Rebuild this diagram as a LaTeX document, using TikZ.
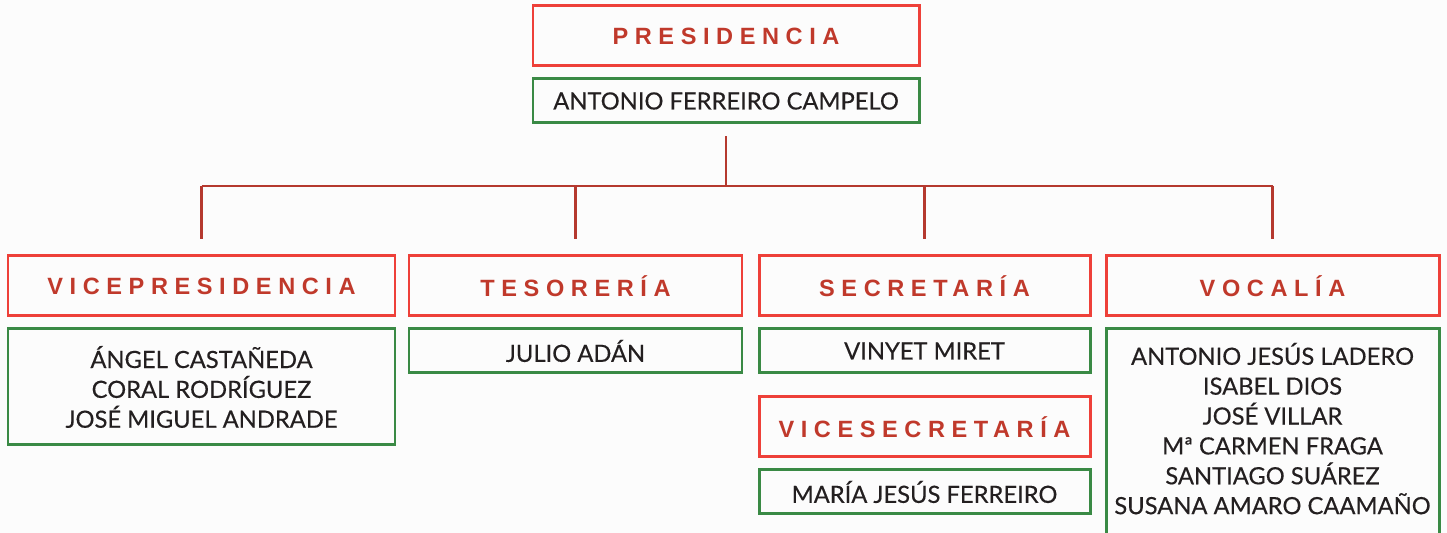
\documentclass[tikz,border=0pt]{standalone}
\usepackage{fontspec}
\setmainfont{Lato}[FakeBold=0.35]
\newfontfamily\headfont[LetterSpace=28]{Liberation Sans}
\definecolor{cargored}{HTML}{C0392B}
\definecolor{boxred}{HTML}{EE4039}
\definecolor{boxgreen}{HTML}{3A8A45}
\definecolor{linkred}{HTML}{B5392F}
\definecolor{ink}{HTML}{231F20}
\definecolor{paper}{HTML}{FCFCFC}
\tikzset{
  cargo/.style={draw=boxred, line width=1.7pt, minimum height=1.2cm, inner sep=0pt,
    text=cargored, font=\headfont\bfseries\fontsize{13.4}{16}\selectfont},
  nombres/.style={draw=boxgreen, line width=1.7pt, inner sep=0pt, text=ink, align=center,
    font=\fontsize{13.5}{17}\selectfont},
  link/.style={draw=linkred, line width=1.3pt},
}
\begin{document}
\begin{tikzpicture}
    % Page
    \fill[paper] (0,0) rectangle (28.94,10.66);
    \clip (0,0) rectangle (28.94,10.66);

    % Presidencia
    \node[cargo, minimum width=7.72cm] (pres) at (14.52,9.94) {PRESIDENCIA};
    \node[nombres, minimum width=7.72cm, minimum height=0.88cm] (presname) at (14.52,8.64)
        {ANTONIO FERREIRO CAMPELO};

    % Cargos
    \node[cargo, minimum width=7.74cm] (vice) at (4.03,4.94) {VICEPRESIDENCIA};
    \node[cargo, minimum width=6.66cm] (teso) at (11.51,4.94) {TESORERÍA};
    \node[cargo, minimum width=6.62cm] (secr) at (18.49,4.94) {SECRETARÍA};
    \node[cargo, minimum width=6.62cm] (vsec) at (18.49,2.12) {VICESECRETARÍA};
    \node[cargo, minimum width=6.66cm] (voca) at (25.45,4.94) {VOCALÍA};

    % Nombres
    \node[nombres, minimum width=7.74cm, minimum height=2.32cm] (vicenames) at (4.03,2.92)
        {ÁNGEL CASTAÑEDA\\CORAL RODRÍGUEZ\\JOSÉ MIGUEL ANDRADE};
    \node[nombres, minimum width=6.66cm, minimum height=0.88cm] (tesoname) at (11.51,3.64)
        {JULIO ADÁN};
    \node[nombres, minimum width=6.62cm, minimum height=0.88cm] (secrname) at (18.49,3.64)
        {VINYET MIRET};
    \node[nombres, minimum width=6.62cm, minimum height=0.88cm] (vsecname) at (18.49,0.82)
        {MARÍA JESÚS FERREIRO};
    \node[nombres, minimum width=6.66cm, minimum height=4.24cm, text depth=0.26cm] (vocanames) at (25.45,1.96)
        {ANTONIO JESÚS LADERO\\ISABEL DIOS\\JOSÉ VILLAR\\Mª CARMEN FRAGA\\SANTIAGO SUÁREZ\\SUSANA AMARO CAAMAÑO};

    % Lines
    \coordinate (bus) at (14.52,6.94);
    \draw[link, shorten <=0.24cm] (presname.south) -- (presname.south |- bus);
    \draw[link] (vice.north |- bus) -- (voca.north |- bus);
    \foreach \n in {vice,teso,secr,voca} \draw[link, shorten >=0.3cm] (\n.north |- bus) -- (\n.north);
\end{tikzpicture}
\end{document}
